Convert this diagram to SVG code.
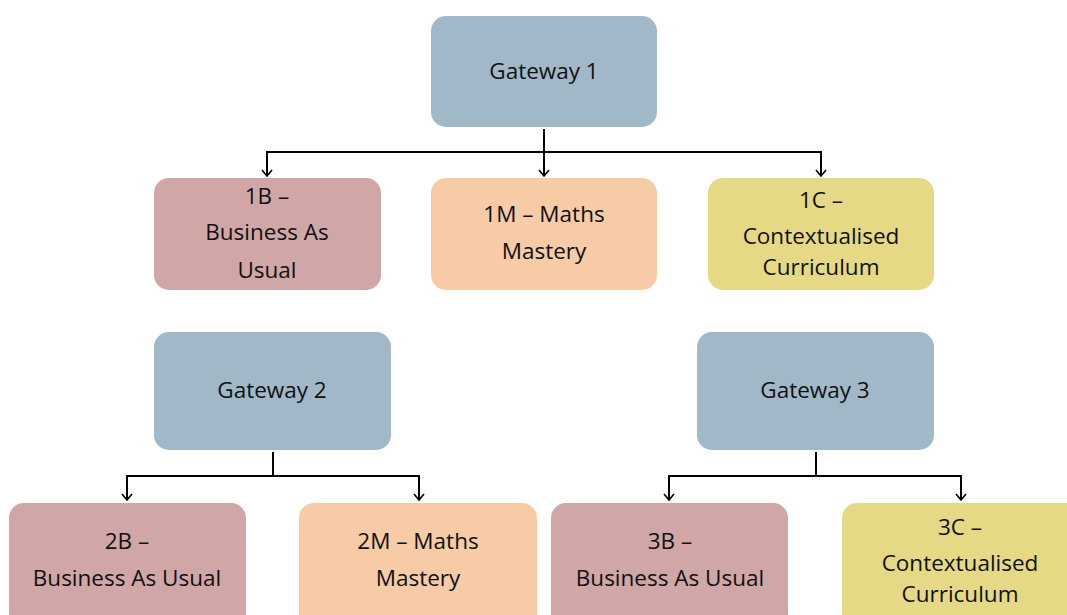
<svg xmlns="http://www.w3.org/2000/svg" width="1067" height="615" viewBox="0 0 1067 615">
<defs>
<marker id="arr" markerWidth="12" markerHeight="12" refX="10" refY="6" orient="auto" markerUnits="userSpaceOnUse" viewBox="0 0 12 12">
<polyline points="4,1 10,6 4,11" fill="none" stroke="#000" stroke-width="1.6"/>
</marker>
<style>
.g{fill:#a1b8c8}
.b{fill:#d0a6a7}
.m{fill:#f6cba6}
.c{fill:#e6d985}
text{font-family:"Open Sans","Liberation Sans",sans-serif;font-size:22.5px;fill:#111;text-anchor:middle}
.ln{fill:none;stroke:#000;stroke-width:2}
</style>
</defs>
<rect width="1067" height="615" fill="#fff"/>
<g id="connectors">
<line class="ln" x1="544" y1="129" x2="544" y2="152"/>
<line class="ln" x1="266" y1="152" x2="822" y2="152"/>
<line class="ln" x1="267" y1="152" x2="267" y2="176" marker-end="url(#arr)"/>
<line class="ln" x1="544" y1="152" x2="544" y2="176" marker-end="url(#arr)"/>
<line class="ln" x1="821" y1="152" x2="821" y2="176" marker-end="url(#arr)"/>
<line class="ln" x1="273" y1="452" x2="273" y2="476"/>
<line class="ln" x1="126" y1="476" x2="420" y2="476"/>
<line class="ln" x1="127" y1="476" x2="127" y2="500" marker-end="url(#arr)"/>
<line class="ln" x1="419" y1="476" x2="419" y2="500" marker-end="url(#arr)"/>
<line class="ln" x1="816" y1="452" x2="816" y2="476"/>
<line class="ln" x1="668" y1="476" x2="962" y2="476"/>
<line class="ln" x1="669" y1="476" x2="669" y2="500" marker-end="url(#arr)"/>
<line class="ln" x1="961" y1="476" x2="961" y2="500" marker-end="url(#arr)"/>
</g>
<g id="gateway1"><rect class="g" x="431" y="16" width="226" height="111" rx="15"/><text x="544" y="79">Gateway 1</text></g>
<g id="n1B"><rect class="b" x="154" y="178" width="227" height="112" rx="15"/><text x="267" y="204">1B –</text><text x="267" y="240">Business As</text><text x="267" y="278">Usual</text></g>
<g id="n1M"><rect class="m" x="431" y="178" width="226" height="112" rx="15"/><text x="544" y="222">1M – Maths</text><text x="544" y="259">Mastery</text></g>
<g id="n1C"><rect class="c" x="708" y="178" width="226" height="112" rx="15"/><text x="821" y="208">1C –</text><text x="821" y="244">Contextualised</text><text x="821" y="275">Curriculum</text></g>
<g id="gateway2"><rect class="g" x="154" y="332" width="237" height="118" rx="15"/><text x="272" y="398">Gateway 2</text></g>
<g id="gateway3"><rect class="g" x="697" y="332" width="237" height="118" rx="15"/><text x="815" y="398">Gateway 3</text></g>
<g id="n2B"><rect class="b" x="9" y="503" width="237" height="125" rx="15"/><text x="127" y="549">2B –</text><text x="127" y="586">Business As Usual</text></g>
<g id="n2M"><rect class="m" x="299" y="503" width="238" height="125" rx="15"/><text x="418" y="549">2M – Maths</text><text x="418" y="586">Mastery</text></g>
<g id="n3B"><rect class="b" x="551" y="503" width="237" height="125" rx="15"/><text x="670" y="549">3B –</text><text x="670" y="586">Business As Usual</text></g>
<g id="n3C"><rect class="c" x="842" y="503" width="240" height="125" rx="15"/><text x="960" y="535">3C –</text><text x="960" y="571">Contextualised</text><text x="960" y="602">Curriculum</text></g>
</svg>
